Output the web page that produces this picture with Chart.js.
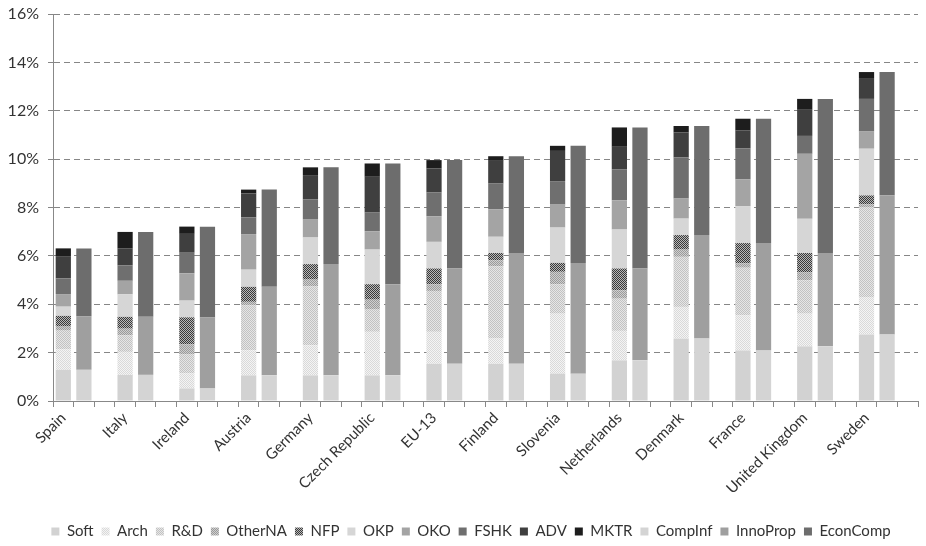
<!DOCTYPE html>
<html>
<head>
<meta charset="utf-8">
<title>Intangible investment by country</title>
<script src="https://cdn.jsdelivr.net/npm/chart.js@4.4.1/dist/chart.umd.min.js"></script>
<style>
    html, body { margin:0; padding:0; background:#fff; }
    #wrap { width:926px; height:546px; }
</style>
</head>
<body>
<div id="wrap"><canvas id="chart" width="926" height="546"></canvas></div>
<script>
/* ============================ Data ============================ */
const countries = ["Spain","Italy","Ireland","Austria","Germany","Czech Republic","EU-13","Finland","Slovenia","Netherlands","Denmark","France","United Kingdom","Sweden"];
const yTicks = [0,2,4,6,8,10,12,14,16];

// detailed bar (left bar of each country), % of GDP
const soft    = [1.29,1.08,0.52,1.06,1.06,1.06,1.54,1.54,1.13,1.68,2.58,2.09,2.26,2.75];
const arch    = [0.85,0.95,0.62,1.04,1.24,1.80,1.32,1.04,2.48,1.22,1.31,1.45,1.35,1.55];
const rnd     = [0.77,0.69,0.80,1.86,2.44,0.92,1.69,2.99,1.22,1.33,2.07,1.97,1.38,3.72];
const otherNA = [0.19,0.27,0.41,0.14,0.28,0.41,0.28,0.25,0.51,0.35,0.30,0.19,0.34,0.11];
const nfp     = [0.42,0.49,1.11,0.62,0.64,0.64,0.65,0.30,0.37,0.90,0.60,0.83,0.79,0.37];
const okp     = [0.38,0.93,0.69,0.71,1.10,1.43,1.10,0.67,1.46,1.61,0.68,1.53,1.41,1.93];
const oko     = [0.52,0.56,1.13,1.47,0.74,0.76,1.06,1.13,0.95,1.21,0.83,1.10,2.69,0.71];
const fshk    = [0.65,0.64,0.85,0.69,0.83,0.77,0.98,1.07,0.97,1.27,1.70,1.29,0.74,1.35];
const adv     = [0.92,0.69,0.78,0.99,1.01,1.48,0.99,0.94,1.25,0.94,1.03,0.73,1.08,0.83];
const mktr    = [0.32,0.69,0.30,0.16,0.32,0.55,0.35,0.19,0.21,0.80,0.27,0.49,0.45,0.28];

// aggregated bar (right bar of each country)
const compInf   = [1.29,1.08,0.52,1.06,1.06,1.06,1.54,1.54,1.13,1.68,2.58,2.09,2.26,2.75];
const innoProp  = [2.20,2.40,2.93,3.66,4.60,3.77,3.94,4.58,4.58,3.80,4.28,4.44,3.86,5.76];
const econComp  = [2.82,3.51,3.75,4.02,4.00,4.99,4.48,4.00,4.84,5.83,4.51,5.14,6.37,5.09];

/* ============================ Patterns ============================ */
function checker(a, b, size) {
    const c = document.createElement("canvas");
    c.width = size*2; c.height = size*2;
    const g = c.getContext("2d");
    g.fillStyle = a; g.fillRect(0,0,size*2,size*2);
    g.fillStyle = b;
    g.fillRect(0,0,size,size);
    g.fillRect(size,size,size,size);
    return g.createPattern(c,"repeat");
}

/* ============================ Build datasets ============================ */
// three slots per country: detailed bar, aggregated bar, gap
const labels = [];
countries.forEach(c=>{ labels.push(c,"",""); });

function spread(values, slot) {
    const out = new Array(countries.length*3).fill(null);
    values.forEach((v,i)=>{ out[i*3+slot] = v; });
    return out;
}

const series = [
    {label:"Soft",     data:soft,     slot:0, color:"#d2d2d2"},
    {label:"Arch",     data:arch,     slot:0, color:checker("#f4f4f4","#d9d9d9",1)},
    {label:"R&D",      data:rnd,      slot:0, color:checker("#e6e6e6","#c2c2c2",1)},
    {label:"OtherNA",  data:otherNA,  slot:0, color:checker("#cfcfcf","#9a9a9a",1)},
    {label:"NFP",      data:nfp,      slot:0, color:checker("#b8b8b8","#3a3a3a",1)},
    {label:"OKP",      data:okp,      slot:0, color:"#d6d6d6"},
    {label:"OKO",      data:oko,      slot:0, color:"#a4a4a4"},
    {label:"FSHK",     data:fshk,     slot:0, color:"#6f6f6f"},
    {label:"ADV",      data:adv,      slot:0, color:"#3f3f3f"},
    {label:"MKTR",     data:mktr,     slot:0, color:"#1d1d1d"},
    {label:"CompInf",  data:compInf,  slot:1, color:"#d4d4d4"},
    {label:"InnoProp", data:innoProp, slot:1, color:"#9f9f9f"},
    {label:"EconComp", data:econComp, slot:1, color:"#6d6d6d"}
];

const datasets = series.map(s=>({
    label: s.label,
    data: spread(s.data, s.slot),
    backgroundColor: s.color,
    borderWidth: 0,
    categoryPercentage: 1.0,
    barPercentage: 0.74
}));

/* ============================ Chart ============================ */
const font = {family:"Lato", size:15};
Chart.defaults.font.family = "Lato";
Chart.defaults.color = "#333";

// legend in the original sits a little right of centre and low
const legendNudge = {
    id: "legendNudge",
    afterLayout(chart) {
        const lg = chart.legend;
        if(!lg) return;
        lg.left += 12; lg.right += 12;
        lg.top += 3; lg.bottom += 3;
    }
};

new Chart(document.getElementById("chart").getContext("2d"), {
    type: "bar",
    data: {labels: labels, datasets: datasets},
    plugins: [legendNudge],
    options: {
        responsive: false,
        animation: false,
        layout: {padding: {top: 14, right: 8, left: 0, bottom: 0}},
        plugins: {
            legend: {
                position: "bottom",
                labels: {boxWidth: 8, boxHeight: 8, padding: 8, font: font, color: "#333"}
            },
            tooltip: {enabled: false}
        },
        scales: {
            x: {
                stacked: true,
                afterFit: s=>{ s.height = 112; },
                grid: {offset: true, drawOnChartArea: false, tickLength: 6, color: "#888"},
                border: {color: "#888"},
                ticks: {autoSkip: false, maxRotation: 45, minRotation: 45, font: font, color: "#333", padding: 2}
            },
            y: {
                stacked: true,
                min: 0, max: 16,
                afterFit: s=>{ s.width = 53; s.paddingTop = 0; s.paddingBottom = 0; },
                afterBuildTicks: s=>{ s.ticks = yTicks.map(v=>({value:v})); },
                grid: {color: "#868686", tickLength: 5},
                border: {color: "#888", dash: [6,4]},
                ticks: {font: {family:"Lato", size:16}, color: "#333", padding: 9, callback: v=>v+"%"}
            }
        }
    }
});
</script>
</body>
</html>
